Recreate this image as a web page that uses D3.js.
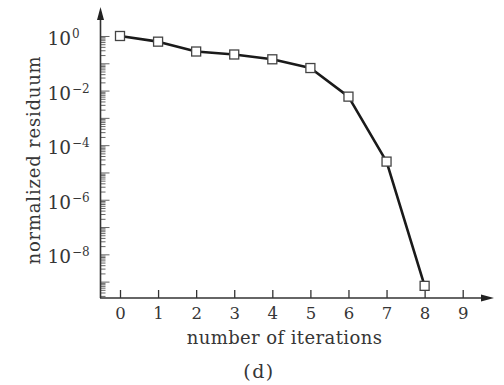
<!DOCTYPE html>
<html>
<head>
<meta charset="utf-8">
<script src="https://cdn.jsdelivr.net/npm/d3@7"></script>
<style>
  body { margin: 0; background: #fff; }
  text { font-family: "DejaVu Serif", "Liberation Serif", serif; fill: #363636; }
</style>
</head>
<body>
<svg id="chart" width="504" height="385"></svg>
<script>
// values
var iterations = [0, 1, 2, 3, 4, 5, 6, 7, 8];
var residuum = [1.0, 0.62, 0.27, 0.21, 0.14, 0.067, 0.006, 2.5e-5, 7e-10];
var xTicks = [0, 1, 2, 3, 4, 5, 6, 7, 8, 9];
var yLabelExps = [0, -2, -4, -6, -8];
var decadeExps = [-9, -8, -7, -6, -5, -4, -3, -2, -1, 0];
var minorMantissas = [2, 3, 4, 5, 6, 7, 8, 9];

var svg = d3.select('#chart');

var x = d3.scaleLinear().domain([0, 9]).range([120, 462.7]);
var y = d3.scaleLog().domain([Math.pow(10, -9.6), 10]).range([298, 8.7]);

// y ticks, pointing inward (to the right)
var decades = decadeExps.map(k => Math.pow(10, k));
var minors = [];
[-10].concat(decadeExps.slice(0, -1)).forEach(k => {
  minorMantissas.forEach(m => {
    var v = m * Math.pow(10, k);
    if (v >= y.domain()[0]) minors.push(v);
  });
});

var yMajor = svg.append('g')
  .attr('transform', 'translate(100.5,0)')
  .call(d3.axisRight(y).tickValues(decades).tickSize(9).tickFormat(''));
var yMinor = svg.append('g')
  .attr('transform', 'translate(100.5,0)')
  .call(d3.axisRight(y).tickValues(minors).tickSize(5).tickFormat(''));
[yMajor, yMinor].forEach(g => {
  g.select('.domain').remove();
  g.selectAll('line').attr('stroke', '#555').attr('stroke-width', 0.9);
});

// y tick labels 10^k
var yl = svg.append('g');
yLabelExps.forEach(k => {
  var t = yl.append('text')
    .attr('x', 47.5)
    .attr('y', y(Math.pow(10, k)) + 9)
    .style('font-size', '18.5px');
  t.append('tspan').text('10');
  t.append('tspan')
    .attr('dy', -7)
    .attr('dx', 1)
    .style('font-size', '12px')
    .text(k === 0 ? '0' : '\u2212' + (-k));
});

// x axis ticks pointing up, labels below
var xAxis = svg.append('g')
  .attr('transform', 'translate(0,298)')
  .call(d3.axisBottom(x).tickValues(xTicks).tickSizeInner(-8).tickSizeOuter(0));
xAxis.select('.domain').remove();
xAxis.selectAll('line').attr('stroke', '#333').attr('stroke-width', 1.3);
xAxis.selectAll('text')
  .attr('y', 21)
  .attr('dy', null)
  .style('font-family', '"DejaVu Serif", "Liberation Serif", serif')
  .style('font-size', '16.5px')
  .attr('fill', '#363636');

// axis lines with arrow heads
svg.append('line')
  .attr('x1', 100.5).attr('y1', 298).attr('x2', 100.5).attr('y2', 16)
  .attr('stroke', '#333').attr('stroke-width', 1.6);
svg.append('path')
  .attr('d', 'M100.5,7 L97,20 L104,20 Z')
  .attr('fill', '#222');
svg.append('line')
  .attr('x1', 100).attr('y1', 298).attr('x2', 485).attr('y2', 298)
  .attr('stroke', '#333').attr('stroke-width', 1.6);
svg.append('path')
  .attr('d', 'M494,298 L481,294.5 L481,301.5 Z')
  .attr('fill', '#222');

// data line
var line = d3.line()
  .x((d, i) => x(iterations[i]))
  .y(d => y(d));
svg.append('path')
  .datum(residuum)
  .attr('d', line)
  .attr('fill', 'none')
  .attr('stroke', '#1a1a1a')
  .attr('stroke-width', 2.6)
  .attr('stroke-linejoin', 'round');

// square markers
svg.selectAll('rect.pt')
  .data(residuum)
  .enter()
  .append('rect')
  .attr('class', 'pt')
  .attr('x', (d, i) => x(iterations[i]) - 4.5)
  .attr('y', d => y(d) - 4.5)
  .attr('width', 9)
  .attr('height', 9)
  .attr('fill', '#fff')
  .attr('stroke', '#444')
  .attr('stroke-width', 1.3);

// titles
svg.append('text')
  .attr('x', 284.5).attr('y', 343.5)
  .attr('text-anchor', 'middle')
  .style('font-size', '18px')
  .style('letter-spacing', '0.4px')
  .text('number of iterations');
svg.append('text')
  .attr('x', 259).attr('y', 378)
  .attr('text-anchor', 'middle')
  .style('font-size', '19px')
  .style('letter-spacing', '1.5px')
  .text('(d)');
svg.append('text')
  .attr('transform', 'translate(40,160) rotate(-90)')
  .attr('text-anchor', 'middle')
  .style('font-size', '18px')
  .style('letter-spacing', '0.8px')
  .text('normalized residuum');
</script>
</body>
</html>
